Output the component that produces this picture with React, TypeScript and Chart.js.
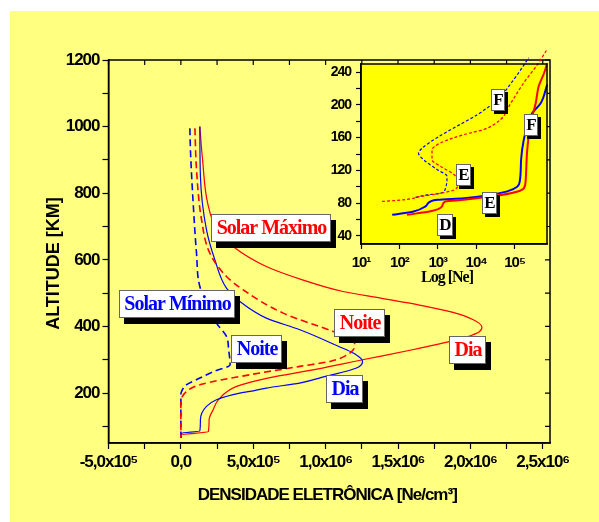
import React, { useEffect, useRef } from 'react';
import { Chart, registerables } from 'chart.js';

Chart.register(...registerables);

const RED = '#FF0000';
const BLUE = '#0000FF';

// ---------- Main chart data: altitude [km] vs electron density [Ne/cm3] ----------
const maxDayAlt = [1000, 900, 770, 690, 640, 580, 540, 505, 485, 465, 442, 420, 398, 383, 372, 355, 330, 300, 272, 245, 220, 180, 150, 120, 84, 74, 65];
const maxDayNe = [1.31e5, 1.5e5, 1.85e5, 2.5e5, 3.6e5, 5.9e5, 8.4e5, 1.12e6, 1.38e6, 1.64e6, 1.88e6, 2.02e6, 2.08e6, 2.06e6, 2.0e6, 1.86e6, 1.6e6, 1.255e6, 9.4e5, 6.0e5, 3.85e5, 2.6e5, 2.23e5, 1.95e5, 1.9e5, 0, 0];

const minDayAlt = [1000, 850, 690, 600, 515, 475, 425, 390, 342, 318, 295, 275, 250, 230, 215, 205, 200, 180, 160, 120, 86, 79, 65];
const minDayNe = [1.31e5, 1.35e5, 1.77e5, 2.35e5, 3.15e5, 4.07e5, 5.9e5, 8.22e5, 1.08e6, 1.2e6, 1.255e6, 1.213e6, 1.0e6, 8.2e5, 5.9e5, 4.77e5, 4.07e5, 2.46e5, 1.77e5, 1.35e5, 1.31e5, 5e3, 0];

const maxNightAlt = [995, 870, 720, 620, 550, 510, 440, 385, 360, 340, 315, 295, 280, 255, 225, 205, 170, 65];
const maxNightNe = [9.7e4, 1.08e5, 1.43e5, 2.0e5, 3.15e5, 4.3e5, 7.07e5, 1.052e6, 1.2e6, 1.2e6, 1.15e6, 1.03e6, 8.22e5, 4.77e5, 1.31e5, 4e4, 0, 0];

const minNightAlt = [995, 920, 770, 620, 520, 410, 370, 330, 285, 265, 245, 225, 205, 195, 65];
const minNightNe = [6.2e4, 6.7e4, 8.5e4, 1.08e5, 1.31e5, 2.46e5, 3.15e5, 3.3e5, 3.4e5, 2.3e5, 1.31e5, 4e4, 5e3, 0, 0];

const mainNeTicks = [-5e5, -2.5e5, 0, 2.5e5, 5e5, 7.5e5, 1e6, 1.25e6, 1.5e6, 1.75e6, 2e6, 2.25e6, 2.5e6];
const mainNeLabelValues = [-5e5, 0, 5e5, 1e6, 1.5e6, 2e6, 2.5e6];
const mainNeLabels = ['-5,0x10⁵', '0,0', '5,0x10⁵', '1,0x10⁶', '1,5x10⁶', '2,0x10⁶', '2,5x10⁶'];
const mainAltTicks = [100, 200, 300, 400, 500, 600, 700, 800, 900, 1000, 1100, 1200];
const mainAltLabelValues = [200, 400, 600, 800, 1000, 1200];

const mainTagTexts = ['Solar Máximo', 'Solar Mínimo', 'Noite', 'Noite', 'Dia', 'Dia'];
const mainTagColors = [RED, BLUE, BLUE, RED, BLUE, RED];
const mainTagNe = [6.23e5, -2.5e4, 5.25e5, 1.236e6, 1.127e6, 1.978e6];
const mainTagAlt = [696, 468, 331, 411, 213, 330];

// ---------- Inset data: altitude [km] vs Ne (log) ----------
const insetMaxDayNe = [158, 646, 1290, 1585, 4790, 23400, 79400, 174000, 195000, 214000, 263000, 355000, 427000, 589000, 708000];
const insetMaxDayAlt = [65.7, 70, 76, 82, 84, 88, 92, 98, 108, 145, 178, 202, 223, 239, 251];

const insetMinDayNe = [65, 234, 479, 646, 1000, 4790, 23400, 64600, 117000, 138000, 148000, 174000, 214000, 288000, 479000, 708000];
const insetMinDayAlt = [65.7, 69.8, 76, 82, 84, 86, 90, 94.3, 100, 108, 133, 157.6, 174, 190, 202, 225];

const insetMinNightNe = [263, 525, 1175, 1585, 1740, 955, 427, 316, 389, 955, 3160, 10700, 35500, 95500, 234000];
const insetMinNightAlt = [87, 90, 92, 98, 112.6, 121, 133, 141, 147, 160, 174, 188, 206.5, 231, 257.5];

const insetMaxNightNe = [35.5, 129, 355, 1175, 2630, 3550, 2630, 1175, 708, 708, 1175, 4790, 15800, 42700, 79400, 174000, 389000, 708000];
const insetMaxNightAlt = [82, 84, 88, 92, 96, 106.5, 115, 125, 133, 145, 153.5, 163.7, 170, 182, 202, 227, 249, 268];

const insetNeTicks = [10, 100, 1000, 10000, 100000];
const insetNeLabels = ['10¹', '10²', '10³', '10⁴', '10⁵'];
const insetAltTicks = [40, 60, 80, 100, 120, 140, 160, 180, 200, 220, 240];
const insetAltLabelValues = [40, 80, 120, 160, 200, 240];

const insetTagTexts = ['F', 'F', 'E', 'E', 'D'];
const insetTagNe = [3.7e4, 2.7e5, 4.8e3, 2.2e4, 1.5e3];
const insetTagAlt = [206, 175.5, 114, 79.6, 53];

const zip = (xs: number[], ys: number[]) => xs.map((x, i) => ({ x, y: ys[i] }));

function drawTag(ctx: CanvasRenderingContext2D, text: string, cx: number, cy: number, color: string,
  font: string, padX: number, h: number, dx: number, dy: number, spacing: string) {
  ctx.save();
  ctx.font = font;
  (ctx as any).letterSpacing = spacing;
  const tw = ctx.measureText(text).width;
  const w = Math.round(tw + 2 * padX);
  const x = Math.round(cx - w / 2);
  const y = Math.round(cy - h / 2);
  ctx.fillStyle = '#000';
  ctx.fillRect(x + dx, y + dy, w, h);
  ctx.fillStyle = '#fff';
  ctx.fillRect(x, y, w, h);
  ctx.strokeStyle = '#666';
  ctx.lineWidth = 1;
  ctx.strokeRect(x + 0.5, y + 0.5, w - 1, h - 1);
  ctx.fillStyle = color;
  ctx.textAlign = 'center';
  ctx.textBaseline = 'middle';
  ctx.fillText(text, x + w / 2 + 0.5, y + h / 2 + 1);
  ctx.restore();
}

const mainDecor = {
  id: 'mainDecor',
  beforeDraw(chart: any) {
    const ctx = chart.ctx as CanvasRenderingContext2D;
    ctx.save();
    ctx.fillStyle = '#ffffff';
    ctx.fillRect(0, 0, chart.width, chart.height);
    ctx.fillStyle = '#FFFF80';
    ctx.fillRect(10, 11, chart.width - 10, chart.height - 11);
    ctx.restore();
    (ctx as any).letterSpacing = '-1px';
  },
  afterDatasetsDraw(chart: any) {
    const ctx = chart.ctx as CanvasRenderingContext2D;
    const xs = chart.scales.x;
    const ys = chart.scales.y;
    mainTagTexts.forEach((t, i) => {
      drawTag(ctx, t, xs.getPixelForValue(mainTagNe[i]), ys.getPixelForValue(mainTagAlt[i]),
        mainTagColors[i], 'bold 20px "Liberation Serif", "Times New Roman", serif', 5, 28, 5, 6, '-1px');
    });
  },
  afterDraw(chart: any) {
    const ctx = chart.ctx as CanvasRenderingContext2D;
    const a = chart.chartArea;
    const xs = chart.scales.x;
    const ys = chart.scales.y;
    ctx.save();
    ctx.strokeStyle = '#000';
    ctx.lineWidth = 1.5;
    ctx.strokeRect(a.left, a.top, a.right - a.left, a.bottom - a.top);
    ctx.lineWidth = 1.2;
    ctx.beginPath();
    mainNeTicks.forEach((v) => {
      const px = xs.getPixelForValue(v);
      ctx.moveTo(px, a.top);
      ctx.lineTo(px, a.top + 5);
    });
    mainAltTicks.forEach((v) => {
      const py = ys.getPixelForValue(v);
      ctx.moveTo(a.right, py);
      ctx.lineTo(a.right - 5, py);
    });
    ctx.stroke();
    // axis titles
    ctx.fillStyle = '#000';
    ctx.textAlign = 'center';
    ctx.textBaseline = 'alphabetic';
    ctx.font = 'bold 17px "Liberation Sans", Arial, sans-serif';
    (ctx as any).letterSpacing = '-1px';
    ctx.fillText('DENSIDADE ELETRÔNICA [Ne/cm³]', (a.left + a.right) / 2 - 2, a.bottom + 57);
    ctx.translate(a.left - 50, (a.top + a.bottom) / 2 + 12);
    ctx.rotate(-Math.PI / 2);
    ctx.font = 'bold 18px "Liberation Sans", Arial, sans-serif';
    (ctx as any).letterSpacing = '0px';
    ctx.fillText('ALTITUDE [KM]', 0, 0);
    ctx.restore();
  },
};

const insetDecor = {
  id: 'insetDecor',
  beforeDraw(chart: any) {
    const ctx = chart.ctx as CanvasRenderingContext2D;
    const a = chart.chartArea;
    ctx.save();
    ctx.fillStyle = '#FFFF00';
    ctx.fillRect(a.left, a.top, a.right - a.left, a.bottom - a.top);
    ctx.restore();
    (ctx as any).letterSpacing = '-1px';
  },
  afterDatasetsDraw(chart: any) {
    const ctx = chart.ctx as CanvasRenderingContext2D;
    const xs = chart.scales.x;
    const ys = chart.scales.y;
    insetTagTexts.forEach((t, i) => {
      drawTag(ctx, t, xs.getPixelForValue(insetTagNe[i]), ys.getPixelForValue(insetTagAlt[i]),
        '#000', 'bold 17px "Liberation Serif", "Times New Roman", serif', 2, 22, 3, 3, '0px');
    });
  },
  afterDraw(chart: any) {
    const ctx = chart.ctx as CanvasRenderingContext2D;
    const a = chart.chartArea;
    ctx.save();
    ctx.strokeStyle = '#000';
    ctx.lineWidth = 1.5;
    ctx.strokeRect(a.left, a.top, a.right - a.left, a.bottom - a.top);
    ctx.fillStyle = '#000';
    ctx.textAlign = 'center';
    ctx.textBaseline = 'alphabetic';
    ctx.font = 'bold 16px "Liberation Serif", "Times New Roman", serif';
    (ctx as any).letterSpacing = '-1px';
    ctx.fillText('Log [Ne]', (a.left + a.right) / 2 - 7, a.bottom + 38);
    ctx.restore();
  },
};

const sansBold = (size: number) => ({ family: '"Liberation Sans", Arial, sans-serif', size, weight: 'bold' as const });

function mainConfig(): any {
  const solid = { borderWidth: 1.2, pointRadius: 0, fill: false, cubicInterpolationMode: 'monotone' };
  const dashed = { borderWidth: 1.6, borderDash: [7, 4], pointRadius: 0, fill: false, cubicInterpolationMode: 'monotone' };
  return {
    type: 'line',
    data: {
      datasets: [
        { label: 'Máximo Noite', data: zip(maxNightNe, maxNightAlt), borderColor: RED, ...dashed },
        { label: 'Mínimo Noite', data: zip(minNightNe, minNightAlt), borderColor: BLUE, ...dashed },
        { label: 'Mínimo Dia', data: zip(minDayNe, minDayAlt), borderColor: BLUE, ...solid },
        { label: 'Máximo Dia', data: zip(maxDayNe, maxDayAlt), borderColor: RED, ...solid },
      ],
    },
    options: {
      responsive: false,
      animation: false,
      indexAxis: 'y',
      layout: { padding: { left: 0, top: 60, right: 49, bottom: 0 } },
      plugins: { legend: { display: false }, tooltip: { enabled: false } },
      scales: {
        x: {
          type: 'linear',
          position: 'bottom',
          min: -5e5,
          max: 2.55e6,
          afterFit: (s: any) => { s.height = 79; },
          afterBuildTicks: (s: any) => { s.ticks = mainNeTicks.map((v) => ({ value: v })); },
          grid: { drawOnChartArea: false, drawTicks: true, tickLength: 6, tickColor: '#000', tickWidth: 1.2 },
          border: { display: true, color: '#000', width: 1.5 },
          ticks: {
            autoSkip: false, maxRotation: 0, color: '#000', padding: 3, font: sansBold(17),
            callback: (v: number) => { const i = mainNeLabelValues.indexOf(v); return i >= 0 ? mainNeLabels[i] : ''; },
          },
          title: { display: false },
        },
        y: {
          type: 'linear',
          position: 'left',
          min: 50,
          max: 1200,
          afterFit: (s: any) => { s.width = 108.5; },
          afterBuildTicks: (s: any) => { s.ticks = mainAltTicks.map((v) => ({ value: v })); },
          grid: { drawOnChartArea: false, drawTicks: true, tickLength: 6, tickColor: '#000', tickWidth: 1.2 },
          border: { display: true, color: '#000', width: 1.5 },
          ticks: {
            autoSkip: false, color: '#000', padding: 3, font: sansBold(17),
            callback: (v: number) => (mainAltLabelValues.indexOf(v) >= 0 ? String(v) : ''),
          },
          title: { display: false },
        },
      },
    },
    plugins: [mainDecor],
  };
}

function insetConfig(): any {
  const solid = { borderWidth: 2, pointRadius: 0, fill: false, cubicInterpolationMode: 'monotone', clip: false };
  const dashed = { borderWidth: 1.2, borderDash: [3, 2], pointRadius: 0, fill: false, cubicInterpolationMode: 'monotone', clip: false };
  return {
    type: 'line',
    data: {
      datasets: [
        { label: 'Máximo Noite', data: zip(insetMaxNightNe, insetMaxNightAlt), borderColor: RED, ...dashed },
        { label: 'Mínimo Noite', data: zip(insetMinNightNe, insetMinNightAlt), borderColor: BLUE, ...dashed },
        { label: 'Máximo Dia', data: zip(insetMaxDayNe, insetMaxDayAlt), borderColor: RED, ...solid },
        { label: 'Mínimo Dia', data: zip(insetMinDayNe, insetMinDayAlt), borderColor: BLUE, ...solid },
      ],
    },
    options: {
      responsive: false,
      animation: false,
      indexAxis: 'y',
      layout: { padding: { left: 0, top: 24, right: 11, bottom: 0 } },
      plugins: { legend: { display: false }, tooltip: { enabled: false } },
      scales: {
        x: {
          type: 'logarithmic',
          position: 'bottom',
          min: 10,
          max: 7e5,
          afterFit: (s: any) => { s.height = 56; },
          afterBuildTicks: (s: any) => { s.ticks = insetNeTicks.map((v) => ({ value: v })); },
          grid: { drawOnChartArea: false, drawTicks: true, tickLength: 5, tickColor: '#000', tickWidth: 1.2 },
          border: { display: true, color: '#000', width: 1.5 },
          ticks: {
            autoSkip: false, maxRotation: 0, color: '#000', padding: 5, font: sansBold(15),
            callback: (v: number) => { const i = insetNeTicks.indexOf(v); return i >= 0 ? insetNeLabels[i] : ''; },
          },
          title: { display: false },
        },
        y: {
          type: 'linear',
          position: 'left',
          min: 30,
          max: 250,
          afterFit: (s: any) => { s.width = 43; },
          afterBuildTicks: (s: any) => { s.ticks = insetAltTicks.map((v) => ({ value: v })); },
          grid: { drawOnChartArea: false, drawTicks: true, tickLength: 5, tickColor: '#000', tickWidth: 1.2 },
          border: { display: true, color: '#000', width: 1.5 },
          ticks: {
            autoSkip: false, color: '#000', padding: 5, font: sansBold(14),
            callback: (v: number) => (insetAltLabelValues.indexOf(v) >= 0 ? String(v) : ''),
          },
          title: { display: false },
        },
      },
    },
    plugins: [insetDecor],
  };
}

export default function App() {
  const mainRef = useRef<HTMLCanvasElement>(null);
  const insetRef = useRef<HTMLCanvasElement>(null);
  useEffect(() => {
    const main = new Chart(mainRef.current as HTMLCanvasElement, mainConfig());
    const inset = new Chart(insetRef.current as HTMLCanvasElement, insetConfig());
    return () => {
      main.destroy();
      inset.destroy();
    };
  }, []);
  return (
    <div style={{ position: 'absolute', left: 0, top: 0, width: 599, height: 522 }}>
      <canvas ref={mainRef} width={599} height={522} style={{ position: 'absolute', left: 0, top: 0 }} />
      <canvas ref={insetRef} width={240} height={260} style={{ position: 'absolute', left: 318, top: 40 }} />
    </div>
  );
}
